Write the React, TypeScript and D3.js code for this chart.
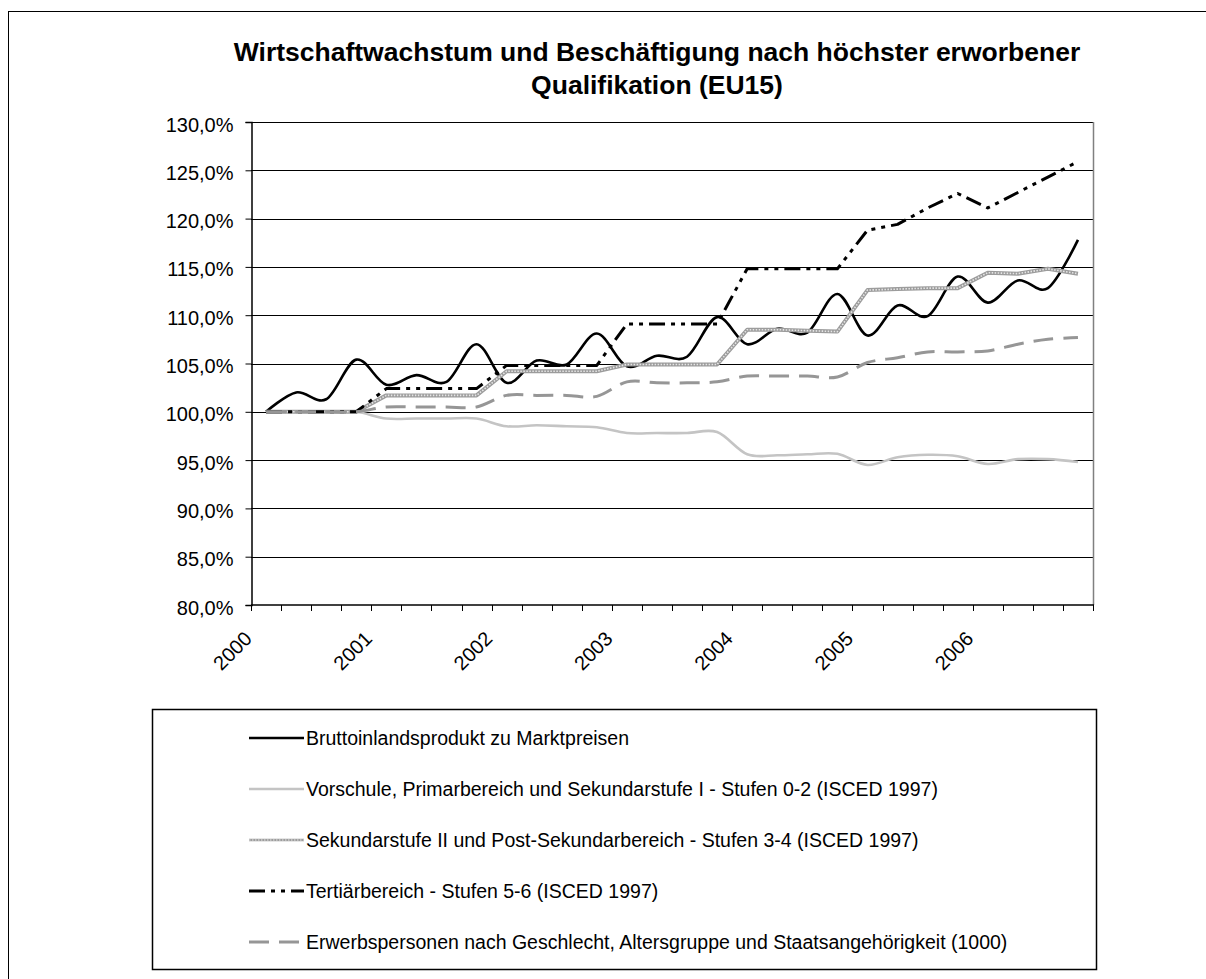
import React, { useEffect, useRef } from "react";
import * as d3 from "d3";

// Quartale 2000Q1 .. 2006Q4
const quarters = [
  "2000Q1", "2000Q2", "2000Q3", "2000Q4",
  "2001Q1", "2001Q2", "2001Q3", "2001Q4",
  "2002Q1", "2002Q2", "2002Q3", "2002Q4",
  "2003Q1", "2003Q2", "2003Q3", "2003Q4",
  "2004Q1", "2004Q2", "2004Q3", "2004Q4",
  "2005Q1", "2005Q2", "2005Q3", "2005Q4",
  "2006Q1", "2006Q2", "2006Q3", "2006Q4",
];
const yearLabels = ["2000", "2001", "2002", "2003", "2004", "2005", "2006"];
const yTicks = [80, 85, 90, 95, 100, 105, 110, 115, 120, 125, 130];

const bip = [
  100.0, 102.0, 101.3, 105.4, 102.8, 103.8, 103.1, 107.0,
  103.0, 105.3, 104.9, 108.1, 104.7, 105.8, 105.7, 109.8,
  107.0, 108.6, 108.2, 112.2, 107.9, 111.0, 109.9, 114.0,
  111.3, 113.6, 112.8, 117.8,
];
const isced02 = [
  100.0, 100.0, 100.0, 100.0, 99.3, 99.3, 99.3, 99.3,
  98.5, 98.6, 98.5, 98.4, 97.8, 97.8, 97.8, 97.9,
  95.6, 95.5, 95.6, 95.65, 94.5, 95.3, 95.55, 95.4,
  94.6, 95.1, 95.1, 94.8,
];
const isced34 = [
  100.0, 100.0, 100.0, 100.0, 101.7, 101.7, 101.7, 101.7,
  104.2, 104.2, 104.2, 104.2, 104.9, 104.9, 104.9, 104.9,
  108.5, 108.5, 108.4, 108.3, 112.6, 112.7, 112.8, 112.8,
  114.4, 114.3, 114.8, 114.3,
];
const isced56 = [
  100.0, 100.0, 100.0, 100.0, 102.4, 102.4, 102.4, 102.4,
  104.8, 104.8, 104.8, 104.8, 109.1, 109.1, 109.1, 109.1,
  114.8, 114.8, 114.8, 114.8, 118.8, 119.4, 121.1, 122.6,
  121.1, 122.7, 124.3, 125.9,
];
const erwerbs = [
  100.0, 100.0, 100.0, 100.0, 100.5, 100.5, 100.5, 100.5,
  101.7, 101.7, 101.7, 101.6, 103.1, 103.0, 103.0, 103.1,
  103.7, 103.7, 103.7, 103.6, 105.1, 105.6, 106.2, 106.2,
  106.3, 107.0, 107.5, 107.7,
];

const seriesNames = [
  "Bruttoinlandsprodukt zu Marktpreisen",
  "Vorschule, Primarbereich und Sekundarstufe I - Stufen 0-2 (ISCED 1997)",
  "Sekundarstufe II und Post-Sekundarbereich - Stufen 3-4 (ISCED 1997)",
  "Tertiärbereich - Stufen 5-6 (ISCED 1997)",
  "Erwerbspersonen nach Geschlecht, Altersgruppe und Staatsangehörigkeit (1000)",
];

const FONT = "'Liberation Sans', Arial, sans-serif";

type Style = { color: string; width: number; dash?: string; smooth: boolean; texture?: boolean };

const styles: Style[] = [
  { color: "#000", width: 2.6, smooth: true },
  { color: "#c4c4c4", width: 2.6, smooth: true },
  { color: "#9c9c9c", width: 4, smooth: false, texture: true },
  { color: "#000", width: 3, dash: "16,6,4,6,4,6", smooth: false },
  { color: "#969696", width: 3, dash: "20,10", smooth: true },
];

const App = () => {
  const svgRef = useRef<SVGSVGElement>(null);

  useEffect(() => {
    const svg = d3.select(svgRef.current);
    svg.selectAll("*").remove();

    const left = 251;
    const right = 1093;
    const top = 122;
    const bottom = 605;

    const x = d3.scaleBand<string>().domain(quarters).range([left, right]);
    const y = d3.scaleLinear().domain([80, 130]).range([bottom, top]);
    const cx = (i: number) => (x(quarters[i]) as number) + x.bandwidth() / 2;

    // outer chart border (runs past the right/bottom of the picture)
    svg
      .append("rect")
      .attr("x", 8.5)
      .attr("y", 11.5)
      .attr("width", 1300)
      .attr("height", 1000)
      .attr("fill", "#fff")
      .attr("stroke", "#000")
      .attr("stroke-width", 1);

    // title
    const title = svg
      .append("text")
      .attr("text-anchor", "middle")
      .style("font-family", FONT)
      .style("font-weight", "bold")
      .style("font-size", "26.5px");
    title.append("tspan").attr("x", 657).attr("y", 61)
      .text("Wirtschaftwachstum und Beschäftigung nach höchster erworbener");
    title.append("tspan").attr("x", 657).attr("y", 94).text("Qualifikation (EU15)");

    // gridlines
    svg
      .append("g")
      .selectAll("line")
      .data(yTicks.slice(1))
      .join("line")
      .attr("x1", left)
      .attr("x2", right)
      .attr("y1", (d) => Math.round(y(d)) + 0.5)
      .attr("y2", (d) => Math.round(y(d)) + 0.5)
      .attr("stroke", "#000")
      .attr("stroke-width", 1);

    // plot right border
    svg
      .append("line")
      .attr("x1", right + 0.5)
      .attr("x2", right + 0.5)
      .attr("y1", top)
      .attr("y2", bottom)
      .attr("stroke", "#808080")
      .attr("stroke-width", 1.5);

    // y axis
    const yAxis = d3
      .axisLeft(y)
      .tickValues(yTicks)
      .tickSize(6)
      .tickPadding(12)
      .tickFormat((d) => (d as number).toFixed(1).replace(".", ",") + "%");
    svg
      .append("g")
      .attr("transform", `translate(${left + 0.5},0)`)
      .call(yAxis)
      .call((g) => g.select(".domain").attr("stroke", "#000").attr("stroke-width", 1.5))
      .call((g) => g.selectAll(".tick line").attr("stroke", "#000"))
      .call((g) =>
        g
          .selectAll(".tick text")
          .attr("dy", "0.45em")
          .style("font-family", FONT)
          .style("font-size", "20px")
          .attr("fill", "#000")
      );

    // x axis
    const bounds = quarters.map((q) => x(q) as number).concat([right]);
    const xg = svg.append("g");
    xg.append("line")
      .attr("x1", left)
      .attr("x2", right + 1)
      .attr("y1", bottom)
      .attr("y2", bottom)
      .attr("stroke", "#000")
      .attr("stroke-width", 1.5);
    xg.selectAll("line.tick")
      .data(bounds)
      .join("line")
      .attr("class", "tick")
      .attr("x1", (d) => Math.round(d) + 0.5)
      .attr("x2", (d) => Math.round(d) + 0.5)
      .attr("y1", bottom)
      .attr("y2", bottom + 6)
      .attr("stroke", "#000");
    xg.selectAll("text")
      .data(yearLabels)
      .join("text")
      .attr("transform", (d) => `translate(${(x(d + "Q1") as number) + 2},${bottom + 35}) rotate(-45)`)
      .attr("text-anchor", "end")
      .style("font-family", FONT)
      .style("font-size", "20px")
      .text((d) => d);

    // series
    const allSeries = [bip, isced02, isced34, isced56, erwerbs];
    const plot = svg.append("g");
    allSeries.forEach((vals, k) => {
      const st = styles[k];
      const line = d3
        .line<number>()
        .x((_, i) => cx(i))
        .y((d) => y(d))
        .curve(st.smooth ? d3.curveCardinal : d3.curveLinear);
      const p = plot
        .append("path")
        .attr("d", line(vals))
        .attr("fill", "none")
        .attr("stroke", st.color)
        .attr("stroke-width", st.width)
        .attr("stroke-linejoin", "round");
      if (st.dash) p.attr("stroke-dasharray", st.dash);
      if (st.texture) {
        plot
          .append("path")
          .attr("d", line(vals))
          .attr("fill", "none")
          .attr("stroke", "#e6e6e6")
          .attr("stroke-width", 1.6)
          .attr("stroke-dasharray", "1.5,1.5");
      }
    });

    // legend
    const lg = svg.append("g");
    lg.append("rect")
      .attr("x", 152.5)
      .attr("y", 709.5)
      .attr("width", 944)
      .attr("height", 260)
      .attr("fill", "#fff")
      .attr("stroke", "#000")
      .attr("stroke-width", 1.5);
    const rowY = d3.scaleLinear().domain([0, 4]).range([738, 942]);
    seriesNames.forEach((name, k) => {
      const st = styles[k];
      const yy = rowY(k);
      const l = lg
        .append("line")
        .attr("x1", 249)
        .attr("x2", 304)
        .attr("y1", yy)
        .attr("y2", yy)
        .attr("stroke", st.color)
        .attr("stroke-width", st.texture ? 2.5 : st.width);
      if (st.dash) l.attr("stroke-dasharray", st.dash);
      if (st.texture) {
        lg.append("line")
          .attr("x1", 249)
          .attr("x2", 304)
          .attr("y1", yy)
          .attr("y2", yy)
          .attr("stroke", "#e6e6e6")
          .attr("stroke-width", 1)
          .attr("stroke-dasharray", "1.5,1.5");
      }
      lg.append("text")
        .attr("x", 306)
        .attr("y", yy)
        .attr("dy", "0.35em")
        .style("font-family", FONT)
        .style("font-size", "19.5px")
        .text(name);
    });
  }, []);

  return (
    <svg
      ref={svgRef}
      width={1206}
      height={979}
      style={{ position: "absolute", left: 0, top: 0, background: "#fff" }}
    />
  );
};

export default App;
